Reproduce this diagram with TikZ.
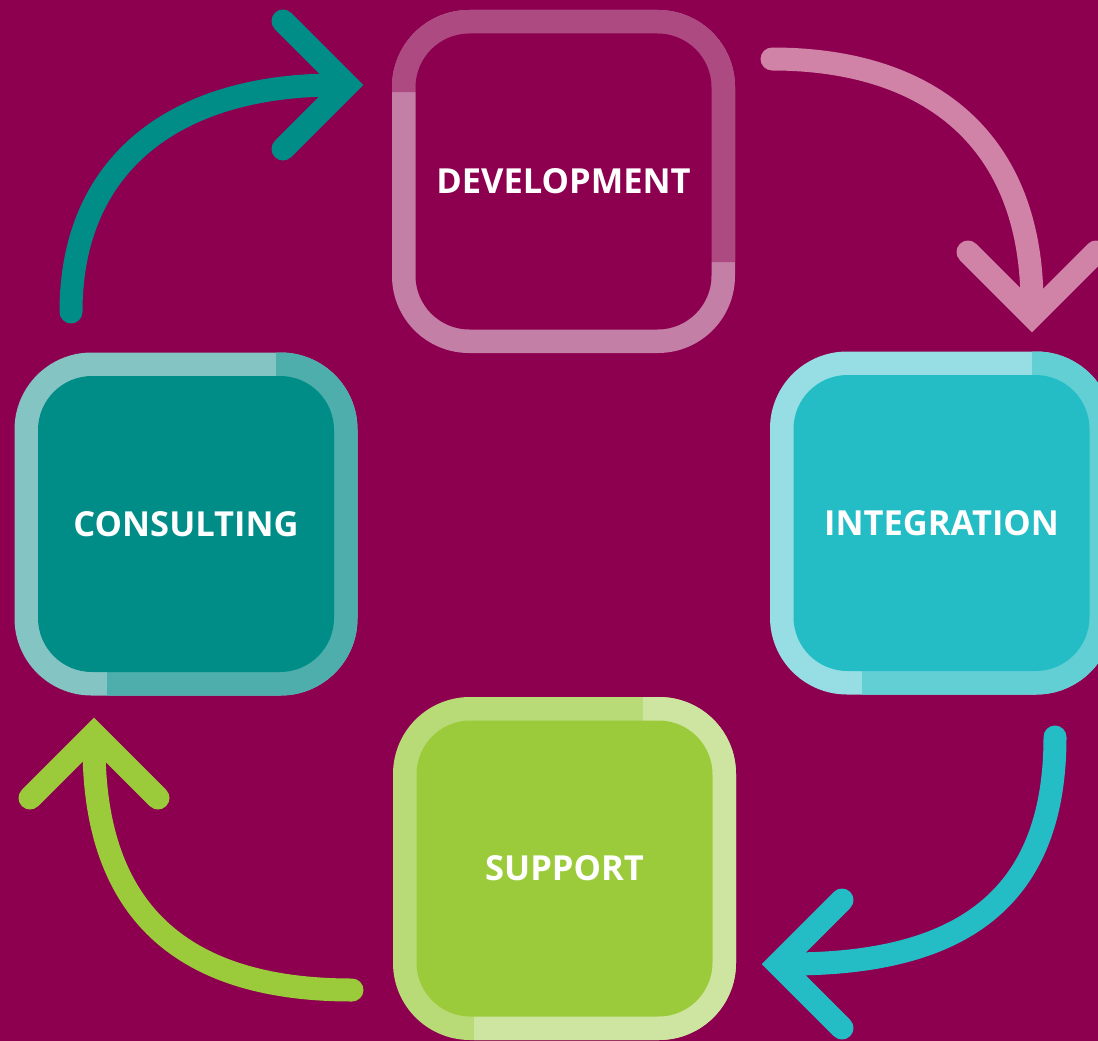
\documentclass[tikz,border=0pt]{standalone}
\usepackage{fontspec}
\setmainfont{Open Sans}
\usetikzlibrary{calc}

\definecolor{bgmag}{HTML}{8C004F}
\definecolor{devdark}{HTML}{AD4A82}
\definecolor{devlight}{HTML}{C47FA7}
\definecolor{devarrow}{HTML}{D083A7}
\definecolor{intfill}{HTML}{24BDC6}
\definecolor{intlight}{HTML}{96DEE3}
\definecolor{intmid}{HTML}{62CFD5}
\definecolor{confill}{HTML}{008C87}
\definecolor{conlight}{HTML}{84C5C3}
\definecolor{conmid}{HTML}{4DAEAB}
\definecolor{supfill}{HTML}{9BCB3B}
\definecolor{supmid}{HTML}{B8DB78}
\definecolor{suplight}{HTML}{CDE5A0}

\tikzset{
  outerring/.style={rounded corners=77pt},
  box/.style={minimum width=296pt, minimum height=296pt, inner sep=0pt,
    rounded corners=54pt, text=white, font=\fontsize{34.5}{40}\selectfont\bfseries},
  flow/.style={line width=23pt, line cap=round, shorten >=12pt},
  head/.style={line width=23pt, line cap=round, line join=miter},
}

\begin{document}
\begin{tikzpicture}[x=1pt, y=-1pt]
    \useasboundingbox (0,0) rectangle (1098,1041);
    \fill[bgmag] (0,0) rectangle (1098,1041);
    \clip (0,0) rectangle (1098,1041);

    % development
    \begin{scope}[shift={(563.5,181.5)}]
        \fill[devlight, outerring] (-171.5,-171.5) rectangle (171.5,171.5);
        \begin{scope}
            \clip (-180,-180) -- (180,-180) -- (180,80.5) -- (140,80.5) -- (-140,-89.5) -- (-180,-89.5) -- cycle;
            \fill[devdark, outerring] (-171.5,-171.5) rectangle (171.5,171.5);
        \end{scope}
    \end{scope}
    \node[box, fill=bgmag] (dev) at (563.5,181.5) {DEVELOPMENT};

    % integration
    \begin{scope}[shift={(941.5,523)}]
        \fill[intlight, outerring] (-171.5,-171.5) rectangle (171.5,171.5);
        \begin{scope}
            \clip (90.5,-180) -- (90.5,-140) -- (-79.5,140) -- (-79.5,180) -- (180,180) -- (180,-180) -- cycle;
            \fill[intmid, outerring] (-171.5,-171.5) rectangle (171.5,171.5);
        \end{scope}
    \end{scope}
    \node[box, fill=intfill] (int) at (941.5,523) {INTEGRATION};

    % support
    \begin{scope}[shift={(564.5,868.5)}]
        \fill[supmid, outerring] (-171.5,-171.5) rectangle (171.5,171.5);
        \begin{scope}
            \clip (78.5,-180) -- (78.5,-140) -- (-90.5,140) -- (-90.5,180) -- (180,180) -- (180,-180) -- cycle;
            \fill[suplight, outerring] (-171.5,-171.5) rectangle (171.5,171.5);
        \end{scope}
    \end{scope}
    \node[box, fill=supfill] (sup) at (564.5,868.5) {SUPPORT};

    % consulting
    \begin{scope}[shift={(186,524)}]
        \fill[conlight, outerring] (-171.5,-171.5) rectangle (171.5,171.5);
        \begin{scope}
            \clip (90,-180) -- (90,-140) -- (-79,140) -- (-79,180) -- (180,180) -- (180,-180) -- cycle;
            \fill[conmid, outerring] (-171.5,-171.5) rectangle (171.5,171.5);
        \end{scope}
    \end{scope}
    \node[box, fill=confill] (con) at (186,524) {CONSULTING};

    % arrows
    \coordinate (conout) at (71,312);
    \coordinate (devin) at (347,85);
    \coordinate (devout) at (772,59);
    \coordinate (intin) at (1032,316);
    \coordinate (intout) at (1055,737);
    \coordinate (supin) at (778,964);
    \coordinate (supout) at (352,990);
    \coordinate (conin) at (94,734);

    \draw[flow, confill] (conout) .. controls +(0,-150) and +(-170,0) .. (devin);
    \draw[head, confill] ($(devin)+(-64,-64)$) -- (devin) -- ($(devin)+(-64,64)$);

    \draw[flow, devarrow] (devout) .. controls +(158,0) and +(0,-176) .. (intin);
    \draw[head, devarrow] ($(intin)+(-64,-64)$) -- (intin) -- ($(intin)+(64,-64)$);

    \draw[flow, intfill] (intout) .. controls +(0,163) and +(182,0) .. (supin);
    \draw[head, intfill] ($(supin)+(64,-64)$) -- (supin) -- ($(supin)+(64,64)$);

    \draw[flow, supfill] (supout) .. controls +(-182,0) and +(0,166) .. (conin);
    \draw[head, supfill] ($(conin)+(-64,64)$) -- (conin) -- ($(conin)+(64,64)$);
\end{tikzpicture}
\end{document}
